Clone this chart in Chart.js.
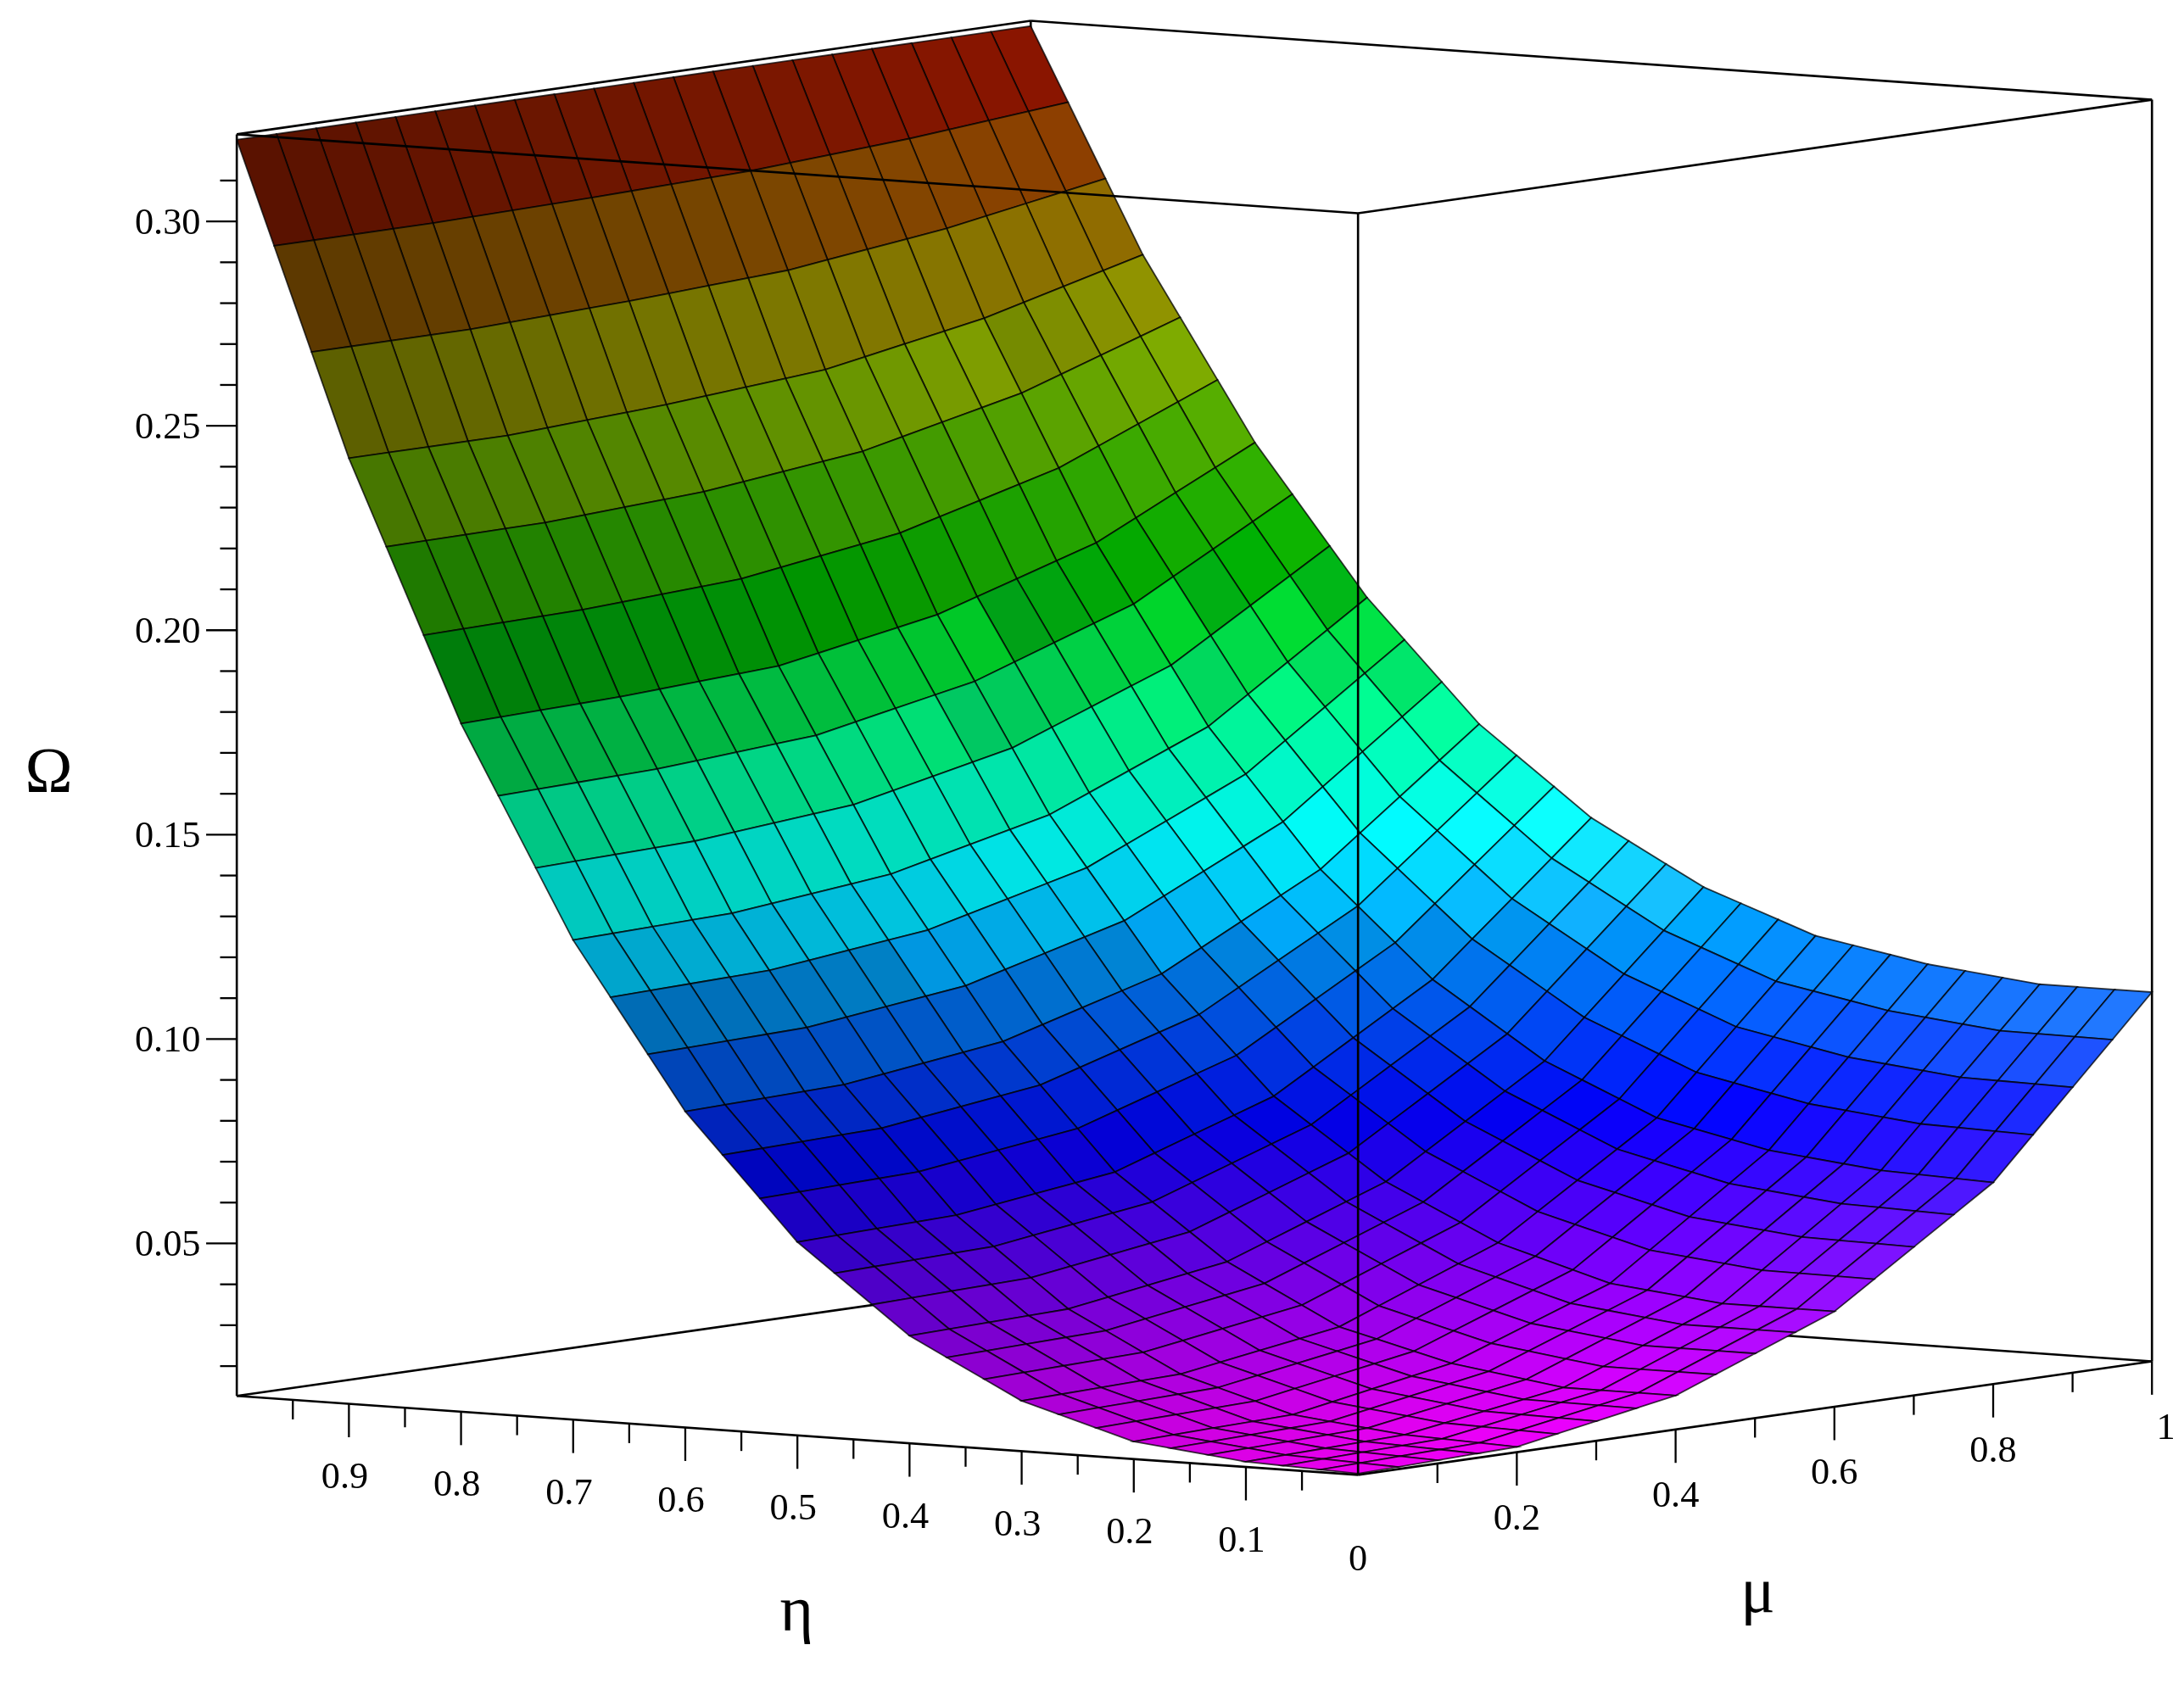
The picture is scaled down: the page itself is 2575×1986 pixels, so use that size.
<!DOCTYPE html>
<html><head><meta charset="utf-8">
<script src="https://cdn.jsdelivr.net/npm/chart.js@4"></script>
<style>html,body{margin:0;padding:0;background:#fff;overflow:hidden}</style>
</head><body>
<canvas id="c" width="2575" height="1986"></canvas>
<script>
// Ω(η, μ)
const etaValues = [0,0.1,0.2,0.3,0.4,0.5,0.6,0.7,0.8,0.9,1];
const muValues = [0,0.2,0.4,0.6,0.8,1];
const omega = [
 [0.013,0.014,0.021,0.036,0.062,0.103],
 [0.014,0.015,0.021,0.036,0.063,0.103],
 [0.017,0.018,0.025,0.039,0.066,0.106],
 [0.025,0.026,0.032,0.047,0.072,0.111],
 [0.039,0.040,0.046,0.060,0.084,0.121],
 [0.060,0.061,0.066,0.079,0.102,0.136],
 [0.090,0.091,0.096,0.107,0.127,0.157],
 [0.130,0.131,0.135,0.144,0.160,0.186],
 [0.181,0.182,0.184,0.191,0.203,0.222],
 [0.244,0.244,0.246,0.249,0.256,0.266],
 [0.320,0.320,0.320,0.320,0.320,0.320]
];
const omegaTicks = ['0.05','0.10','0.15','0.20','0.25','0.30'];
const etaTicks = ['0.1','0.2','0.3','0.4','0.5','0.6','0.7','0.8','0.9'];
const muTicks = ['0','0.2','0.4','0.6','0.8','1'];
const zMin = 0.0127, zMax = 0.3213;

function bil(e, m){
  const fe = e*10, fm = m*5;
  const i = Math.min(9, Math.floor(fe)), j = Math.min(4, Math.floor(fm));
  const a = fe-i, b = fm-j;
  return omega[i][j]*(1-a)*(1-b)+omega[i+1][j]*a*(1-b)+omega[i][j+1]*(1-a)*b+omega[i+1][j+1]*a*b;
}

const surfacePlugin = {
  id:'surf',
  afterDatasetsDraw(chart){
    const ctx = chart.ctx, xs = chart.scales.x, ys = chart.scales.y;
    const k = (xs.getPixelForValue(1568)-xs.getPixelForValue(0))/1568;
    const O=[975,1065], Ae=[-805,-57], Am=[570,-82], H=[0,-911];
    const P=(e,m,z)=>{const t=(z-zMin)/(zMax-zMin);
      return [xs.getPixelForValue(O[0]+e*Ae[0]+m*Am[0]+t*H[0]), ys.getPixelForValue(O[1]+e*Ae[1]+m*Am[1]+t*H[1])];};
    const line=(a,b,w)=>{ctx.beginPath();ctx.moveTo(a[0],a[1]);ctx.lineTo(b[0],b[1]);ctx.lineWidth=(w||1.6)*k;ctx.strokeStyle='#000';ctx.stroke();};
    ctx.save();
    line(P(1,0,zMin),P(1,1,zMin)); line(P(0,1,zMin),P(1,1,zMin));
    line(P(1,1,zMin),P(1,1,zMax));
    const NE=30, NM=20, quads=[];
    for(let i=0;i<NE;i++)for(let j=0;j<NM;j++){
      const e0=i/NE,e1=(i+1)/NE,m0=j/NM,m1=(j+1)/NM;
      const z=[bil(e0,m0),bil(e1,m0),bil(e1,m1),bil(e0,m1)];
      quads.push({pts:[P(e0,m0,z[0]),P(e1,m0,z[1]),P(e1,m1,z[2]),P(e0,m1,z[3])],
        depth:e0+m0, zc:(z[0]+z[1]+z[2]+z[3])/4, e:(e0+e1)/2, m:(m0+m1)/2});
    }
    quads.sort((a,b)=>b.depth-a.depth);
    for(const q of quads){
      const t=Math.max(0,Math.min(1,(q.zc-0.012)/(0.32-0.012)));
      const hue=300*(1-t);
      let L=47-18*q.e+10*q.m;
      if(hue>150&&hue<200) L+=5;
      if(hue<130) L-=8;
      if(hue<70) L-=4;
      ctx.beginPath();ctx.moveTo(q.pts[0][0],q.pts[0][1]);
      for(let n=1;n<4;n++)ctx.lineTo(q.pts[n][0],q.pts[n][1]);
      ctx.closePath();
      ctx.fillStyle=`hsl(${hue},100%,${L}%)`;ctx.fill();
      ctx.lineWidth=1.1*k;ctx.strokeStyle='rgba(0,0,0,0.75)';ctx.stroke();
    }
    line(P(0,0,zMin),P(1,0,zMin)); line(P(0,0,zMin),P(0,1,zMin));
    line(P(1,0,zMin),P(1,0,zMax)); line(P(0,0,zMin),P(0,0,zMax)); line(P(0,1,zMin),P(0,1,zMax));
    line(P(1,0,zMax),P(0,0,zMax)); line(P(0,0,zMax),P(0,1,zMax));
    line(P(1,0,zMax),P(1,1,zMax)); line(P(0,1,zMax),P(1,1,zMax));
    ctx.fillStyle='#000';ctx.font=`${27*k}px "Liberation Serif"`;ctx.textBaseline='middle';ctx.textAlign='right';
    for(let v=0.02;v<=0.32;v+=0.01){
      const p=P(1,0,v), big=Math.abs(v*20-Math.round(v*20))<1e-6;
      line(p,[p[0]-(big?22:12)*k,p[1]],1.4);
    }
    omegaTicks.forEach(s=>{const p=P(1,0,parseFloat(s));ctx.fillText(s,p[0]-26*k,p[1]+2*k);});
    ctx.textAlign='center';ctx.textBaseline='top';
    for(let n=1;n<=19;n++){const p=P(n/20,0,zMin);line(p,[p[0],p[1]+(n%2?14:24)*k],1.4);}
    etaTicks.forEach(s=>{const p=P(parseFloat(s),0,zMin);ctx.fillText(s,p[0]-3*k,p[1]+40*k);});
    for(let n=1;n<=10;n++){const p=P(0,n/10,zMin);line(p,[p[0],p[1]+(n%2?14:24)*k],1.4);}
    muTicks.forEach(s=>{const v=parseFloat(s);const p=P(0,v,zMin);ctx.fillText(s,p[0]+(v===1?10:0)*k,p[1]+(v===0?48:35)*k);});
    ctx.font=`${46*k}px "Liberation Serif"`;ctx.textBaseline='middle';
    ctx.fillText('Ω',xs.getPixelForValue(35),ys.getPixelForValue(560));
    ctx.fillText('η',xs.getPixelForValue(572),ys.getPixelForValue(1165));
    ctx.fillText('μ',xs.getPixelForValue(1262),ys.getPixelForValue(1152));
    ctx.restore();
  }
};

new Chart(document.getElementById('c'),{
  type:'scatter',
  data:{datasets:[{data:[]}]},
  options:{responsive:false,animation:false,devicePixelRatio:1,
    layout:{padding:0},
    plugins:{legend:{display:false},tooltip:{enabled:false}},
    scales:{x:{type:'linear',min:0,max:1568,display:false},
            y:{type:'linear',min:0,max:1216,reverse:true,display:false}}},
  plugins:[surfacePlugin]
});
</script>
</body></html>
